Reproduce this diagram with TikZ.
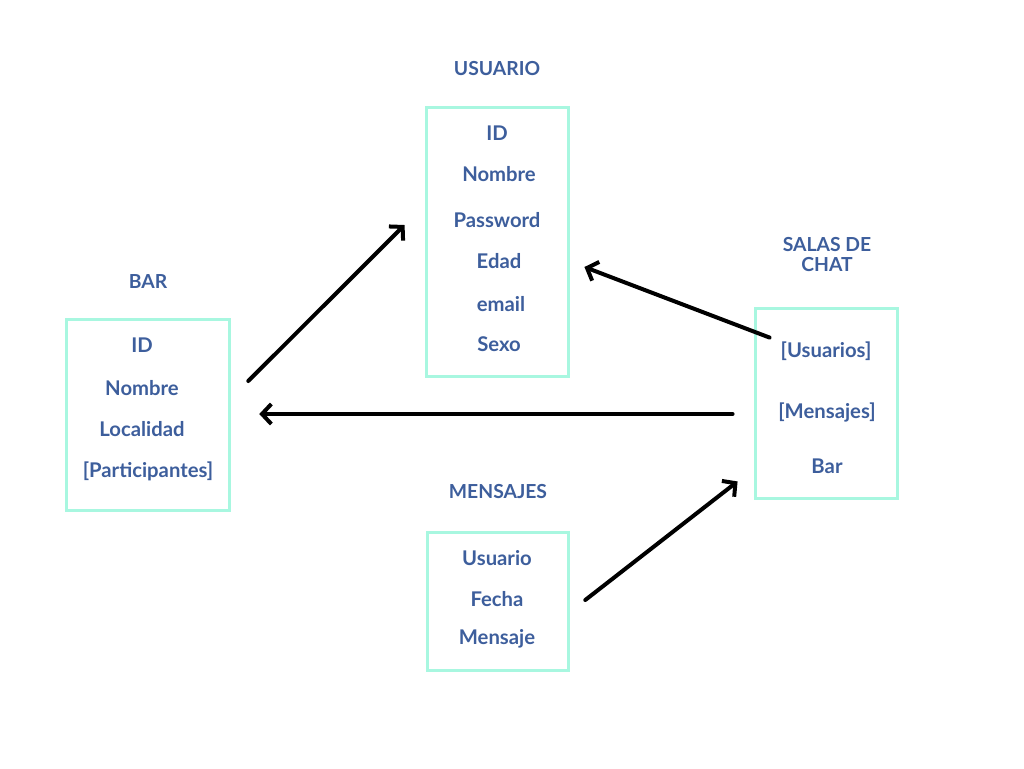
\documentclass[tikz,border=0pt]{standalone}
\usepackage{fontspec}
\setmainfont{Lato}
\usepackage{xcolor}
\usetikzlibrary{arrows.meta, positioning, calc}
\definecolor{titleblue}{HTML}{3D5E9C}
\definecolor{mint}{HTML}{A8F7E0}
\tikzstyle{entity} = [rectangle, draw=mint, line width=2.4pt, inner sep=0pt]
\tikzstyle{title} = [text=titleblue, font=\bfseries\fontsize{14.5}{15}\selectfont, align=center]
\tikzstyle{field} = [text=titleblue, font=\bfseries\fontsize{15.2}{15}\selectfont]
\tikzstyle{arrow} = [line width=3pt, line cap=round, line join=round, -{Straight Barb[length=7pt, width=15pt]}]

\begin{document}
\begin{tikzpicture}[x=0.75pt, y=-0.75pt]
\useasboundingbox (0,0) rectangle (1024,768);
% Boxes
\node (usuario) [entity, minimum width=107pt, minimum height=202pt] at (497.5,242) {};
\node (bar) [entity, minimum width=122.5pt, minimum height=143.5pt] at (148,415) {};
\node (salas) [entity, minimum width=107pt, minimum height=143pt] at (826.5,403.5) {};
\node (mensajes) [entity, minimum width=106pt, minimum height=104pt] at (498,601.5) {};

% Titles
\node (usuarioTitle) [title] at (497,69) {USUARIO};
\node (barTitle) [title] at (148,282) {BAR};
\node (salasTitle) [title] at (827,255) {SALAS DE\\CHAT};
\node (mensajesTitle) [title] at (498,492) {MENSAJES};

% Fields
\node (usuId) [field] at (497,133) {ID};
\node (usuNombre) [field] at (499,174) {Nombre};
\node (usuPassword) [field] at (497,220) {Password};
\node (usuEdad) [field] at (499,261) {Edad};
\node (usuEmail) [field] at (501,304) {email};
\node (usuSexo) [field] at (499,344) {Sexo};

\node (barId) [field] at (142,345) {ID};
\node (barNombre) [field] at (142,388) {Nombre};
\node (barLocalidad) [field] at (142,429) {Localidad};
\node (barParticipantes) [field] at (148,471) {[Participantes]};

\node (salUsuarios) [field] at (826,351) {[Usuarios]};
\node (salMensajes) [field] at (827,412) {[Mensajes]};
\node (salBar) [field] at (827,466) {Bar};

\node (menUsuario) [field] at (497,558) {Usuario};
\node (menFecha) [field] at (497,599) {Fecha};
\node (menMensaje) [field] at (497,639) {Mensaje};

% Arrows
\draw [arrow] ($(bar.east)+(17,-34)$) -- ($(usuario.west)+(-20,-17)$);
\draw [arrow] ($(salas.north west)+(16,31)$) -- ($(usuario.east)+(14,25)$);
\draw [arrow] ($(salas.west)+(-21,10.5)$) -- ($(bar.east)+(28,-1)$);
\draw [arrow] ($(mensajes.east)+(15,-1.5)$) -- ($(salas.south west)+(-16,-19)$);
\end{tikzpicture}
\end{document}
